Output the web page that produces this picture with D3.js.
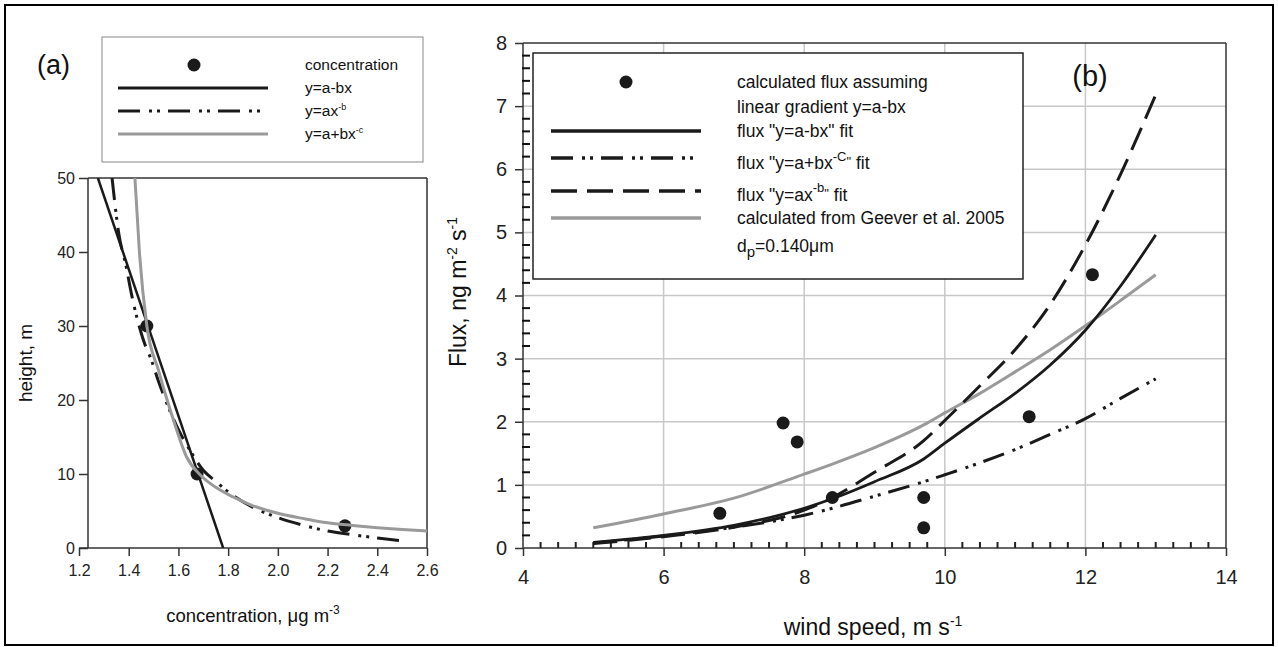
<!DOCTYPE html>
<html>
<head>
<meta charset="utf-8">
<script src="https://cdn.jsdelivr.net/npm/d3@7"></script>
<style>
body { margin: 0; background: #fff; }
svg { font-family: "Liberation Sans", Arial, sans-serif; }
</style>
</head>
<body>
<svg id="chart" width="1278" height="647"></svg>
<script>
// ---- panel (a): concentration profile ----
var concObs = [1.473, 1.675, 2.27];
var heightObs = [30, 10, 3];

var linConc = [1.276, 1.78];
var linHeight = [50, 0];

var powConc = [1.333, 1.36, 1.39, 1.41, 1.46, 1.49, 1.52, 1.56, 1.60, 1.65, 1.70, 1.75, 1.80, 1.90, 2.00, 2.10, 2.20, 2.30, 2.40, 2.49];
var powHeight = [50, 42.5, 38, 34.5, 28, 25.5, 22.5, 19, 16, 13, 10.5, 9.0, 7.6, 5.5, 4.1, 3.1, 2.3, 1.8, 1.35, 1.0];

var hypConc = [1.425, 1.443, 1.473, 1.52, 1.55, 1.58, 1.633, 1.687, 1.75, 1.82, 1.90, 2.00, 2.10, 2.20, 2.30, 2.40, 2.50, 2.60];
var hypHeight = [50, 40, 30, 24, 20.5, 17.3, 12.3, 9.9, 8.2, 6.9, 5.7, 4.7, 4.0, 3.4, 3.05, 2.75, 2.5, 2.3];

var concTicks = [1.2, 1.4, 1.6, 1.8, 2.0, 2.2, 2.4, 2.6];
var heightTicks = [0, 10, 20, 30, 40, 50];

// ---- panel (b): flux vs wind speed ----
var windObs = [6.8, 7.7, 7.9, 8.4, 9.7, 9.7, 11.2, 12.1];
var fluxObs = [0.55, 1.98, 1.68, 0.80, 0.80, 0.32, 2.08, 4.33];

var fitWind = [5, 6, 7, 8, 8.4, 9, 9.7, 10, 10.5, 11, 11.5, 12, 12.5, 13];
var linFlux = [0.09, 0.20, 0.36, 0.63, 0.78, 1.05, 1.41, 1.66, 2.06, 2.45, 2.90, 3.45, 4.15, 4.96];
var hypFlux = [0.08, 0.19, 0.33, 0.52, 0.63, 0.82, 1.05, 1.16, 1.35, 1.56, 1.80, 2.05, 2.37, 2.68];
var powFlux = [0.07, 0.18, 0.33, 0.60, 0.80, 1.20, 1.70, 2.02, 2.57, 3.14, 3.86, 4.80, 5.92, 7.18];
var geeverFlux = [0.32, 0.54, 0.79, 1.17, 1.33, 1.59, 1.95, 2.14, 2.45, 2.79, 3.14, 3.52, 3.92, 4.33];

var windTicks = [4, 6, 8, 10, 12, 14];
var fluxTicks = [0, 1, 2, 3, 4, 5, 6, 7, 8];

var GRAY = "#9a9a9a";
var DASHDOT = "22,9,3,5,3,8";
var DASHED = "24,10";

var svg = d3.select("#chart");

svg.append("rect")
    .attr("x", 5).attr("y", 5).attr("width", 1268).attr("height", 640)
    .attr("fill", "none").attr("stroke", "#000").attr("stroke-width", 2);

// text with super/subscript pieces: [string, vertical offset]
function addRich(g, x, y, parts, size, small) {
    var t = g.append("text").attr("x", x).attr("y", y).style("font-size", size + "px").attr("fill", "#111");
    var cur = 0;
    parts.forEach(function (p) {
        var off = p[1] || 0;
        var s = t.append("tspan").attr("dy", off - cur).text(p[0]);
        if (off != 0) s.style("font-size", small + "px");
        cur = off;
    });
    return t;
}

function zip(a, b) {
    return a.map(function (d, i) { return [d, b[i]]; });
}

function drawLine(g, x, y, xs, ys, color, width, dash, curve) {
    var line = d3.line()
        .x(function (d) { return x(d[0]); })
        .y(function (d) { return y(d[1]); })
        .curve(curve || d3.curveLinear);
    g.append("path")
        .datum(zip(xs, ys))
        .attr("d", line)
        .attr("fill", "none")
        .attr("stroke", color)
        .attr("stroke-width", width)
        .attr("stroke-dasharray", dash || null);
}

function hline(g, x1, x2, y, color, w) {
    g.append("line").attr("x1", x1).attr("x2", x2).attr("y1", y).attr("y2", y)
        .attr("stroke", color).attr("stroke-width", w);
}
function vline(g, x, y1, y2, color, w) {
    g.append("line").attr("x1", x).attr("x2", x).attr("y1", y1).attr("y2", y2)
        .attr("stroke", color).attr("stroke-width", w);
}

// =================== panel (a) ===================
var xa = d3.scaleLinear().domain([1.2, 2.6]).range([79, 427]);
var ya = d3.scaleLinear().domain([0, 50]).range([548, 178]);
var ga = svg.append("g");

var axA = ga.append("g")
    .attr("transform", "translate(0,548)")
    .call(d3.axisBottom(xa).tickValues(concTicks).tickSize(8).tickSizeOuter(0).tickFormat(d3.format(".1f")));
axA.select(".domain").remove();
axA.selectAll("line").attr("stroke", "#333").attr("stroke-width", 1.5);
axA.selectAll("text").attr("dy", null).attr("y", 28).style("font-size", "16px").attr("fill", "#222");

var ayA = ga.append("g")
    .attr("transform", "translate(88,0)")
    .call(d3.axisLeft(ya).tickValues(heightTicks).tickSize(9).tickPadding(4).tickSizeOuter(0));
ayA.select(".domain").remove();
ayA.selectAll("line").attr("stroke", "#333").attr("stroke-width", 1.5);
ayA.selectAll("text").style("font-size", "16px").attr("fill", "#222");

hline(ga, 79, 427, 548, "#333", 1.5);
vline(ga, 88, 178, 548, "#333", 1.5);
hline(ga, 88, 427, 178, "#333", 1.5);
vline(ga, 427, 178, 548, "#333", 1.5);

ga.append("defs").append("clipPath").attr("id", "clipA")
    .append("rect").attr("x", 88).attr("y", 178).attr("width", 339).attr("height", 370);
var plotA = ga.append("g").attr("clip-path", "url(#clipA)");

plotA.selectAll("circle")
    .data(zip(concObs, heightObs))
    .enter().append("circle")
    .attr("cx", function (d) { return xa(d[0]); })
    .attr("cy", function (d) { return ya(d[1]); })
    .attr("r", 6.5)
    .attr("fill", "#1a1a1a");

drawLine(plotA, xa, ya, linConc, linHeight, "#1a1a1a", 2.5);
drawLine(plotA, xa, ya, powConc, powHeight, "#1a1a1a", 3, DASHDOT, d3.curveMonotoneX);
drawLine(plotA, xa, ya, hypConc, hypHeight, GRAY, 3, null, d3.curveMonotoneX);

addRich(ga, 253, 622, [["concentration, \u03bcg m"], ["-3", -8]], 18.5, 12).attr("text-anchor", "middle");
ga.append("text")
    .attr("transform", "translate(32,363) rotate(-90)")
    .attr("text-anchor", "middle")
    .style("font-size", "19px").attr("fill", "#111")
    .text("height, m");

ga.append("text").attr("x", 37).attr("y", 74).style("font-size", "27px").attr("fill", "#111").text("(a)");

// legend (a)
var la = ga.append("g");
la.append("rect").attr("x", 102).attr("y", 37).attr("width", 321).attr("height", 125)
    .attr("fill", "#fff").attr("stroke", "#888").attr("stroke-width", 1);
la.append("circle").attr("cx", 194).attr("cy", 65).attr("r", 6.5).attr("fill", "#1a1a1a");
hline(la, 118, 268, 88, "#1a1a1a", 3);
la.append("line").attr("x1", 118).attr("x2", 268).attr("y1", 111).attr("y2", 111)
    .attr("stroke", "#1a1a1a").attr("stroke-width", 3).attr("stroke-dasharray", DASHDOT);
hline(la, 118, 268, 134, GRAY, 3);
addRich(la, 305, 70, [["concentration"]], 15.5, 10);
addRich(la, 305, 93, [["y=a-bx"]], 15.5, 10);
addRich(la, 305, 116, [["y=ax"], ["-b", -6]], 15.5, 9);
addRich(la, 305, 139, [["y=a+bx"], ["-c", -6]], 15.5, 9);

// =================== panel (b) ===================
var xb = d3.scaleLinear().domain([4, 14]).range([523, 1226]);
var yb = d3.scaleLinear().domain([0, 8]).range([548, 43]);
var gb = svg.append("g");

// grid
var grid = gb.append("g");
windTicks.slice(1, -1).forEach(function (v) { vline(grid, xb(v), 43, 548, "#c8c8c8", 1.5); });
fluxTicks.slice(1, -1).forEach(function (v) { hline(grid, 523, 1226, yb(v), "#c8c8c8", 1.5); });

var axB = gb.append("g").attr("transform", "translate(0,548)")
    .call(d3.axisBottom(xb).tickValues(windTicks).tickSize(8).tickSizeOuter(0));
axB.select(".domain").remove();
axB.selectAll("line").attr("stroke", "#333").attr("stroke-width", 1.5);
axB.selectAll("text").attr("dy", null).attr("y", 36).style("font-size", "20px").attr("fill", "#222");

var ayB = gb.append("g").attr("transform", "translate(523,0)")
    .call(d3.axisLeft(yb).tickValues(fluxTicks).tickSize(8).tickPadding(8).tickSizeOuter(0));
ayB.select(".domain").remove();
ayB.selectAll("line").attr("stroke", "#333").attr("stroke-width", 1.5);
ayB.selectAll("text").style("font-size", "20px").attr("fill", "#222");

hline(gb, 523, 1226, 548, "#333", 1.5);
vline(gb, 523, 43, 548, "#333", 1.5);
hline(gb, 523, 1226, 43, "#333", 1.5);
vline(gb, 1226, 43, 548, "#333", 1.5);

// minor ticks, pointing into the plot
var minorX = d3.range(4, 14.01, 0.25).filter(function (v) { return Math.abs(v / 2 - Math.round(v / 2)) > 0.01; });
var minorY = d3.range(1, 40).filter(function (k) { return k % 5 != 0; }).map(function (k) { return k / 5; });
var minor = gb.append("g");
minorX.forEach(function (v) { vline(minor, xb(v), 548, 542, "#222", 2); });
minorY.forEach(function (v) { hline(minor, 522, 530, yb(v), "#111", 2); });

// legend (b) box sits over the grid
var lb = gb.append("g");
lb.append("rect").attr("x", 533).attr("y", 53).attr("width", 490).attr("height", 226)
    .attr("fill", "#fff").attr("stroke", "#222").attr("stroke-width", 1.5);

var plotB = gb.append("g");
plotB.selectAll("circle")
    .data(zip(windObs, fluxObs))
    .enter().append("circle")
    .attr("cx", function (d) { return xb(d[0]); })
    .attr("cy", function (d) { return yb(d[1]); })
    .attr("r", 6.5)
    .attr("fill", "#1a1a1a");

drawLine(plotB, xb, yb, fitWind, geeverFlux, GRAY, 3, null, d3.curveMonotoneX);
drawLine(plotB, xb, yb, fitWind, hypFlux, "#1a1a1a", 3, DASHDOT, d3.curveMonotoneX);
drawLine(plotB, xb, yb, fitWind, powFlux, "#1a1a1a", 3, DASHED, d3.curveMonotoneX);
drawLine(plotB, xb, yb, fitWind, linFlux, "#1a1a1a", 2.8, null, d3.curveMonotoneX);

lb.append("circle").attr("cx", 626).attr("cy", 82).attr("r", 6.5).attr("fill", "#1a1a1a");
hline(lb, 551, 701, 131, "#1a1a1a", 3.3);
lb.append("line").attr("x1", 551).attr("x2", 697).attr("y1", 158).attr("y2", 158)
    .attr("stroke", "#1a1a1a").attr("stroke-width", 3.3).attr("stroke-dasharray", DASHDOT);
lb.append("line").attr("x1", 551).attr("x2", 701).attr("y1", 191).attr("y2", 191)
    .attr("stroke", "#1a1a1a").attr("stroke-width", 3.3).attr("stroke-dasharray", "26,10");
hline(lb, 551, 701, 218, GRAY, 3.3);

var LX = 737, LF = 17.5;
addRich(lb, LX, 88, [["calculated flux assuming"]], LF, 12);
addRich(lb, LX, 113, [["linear gradient y=a-bx"]], LF, 12);
addRich(lb, LX, 137, [["flux \"y=a-bx\" fit"]], LF, 12);
addRich(lb, LX, 169, [["flux \"y=a+bx"], ["-C", -8], ["\"", -3], [" fit", 0]], LF, 13);
addRich(lb, LX, 201, [["flux \"y=ax"], ["-b", -9], ["\"", -3], [" fit", 0]], LF, 13);
addRich(lb, LX, 224, [["calculated from Geever et al. 2005"]], LF, 12);
addRich(lb, LX, 252, [["d"], ["p", 5], ["=0.140\u03bcm", 0]], LF, 15);

addRich(gb, 873, 635, [["wind speed, m s"], ["-1", -9]], 23, 14).attr("text-anchor", "middle");
addRich(gb, 0, 0, [["Flux, ng m"], ["-2", -9], [" s"], ["-1", -9]], 23, 14)
    .attr("transform", "translate(466,292) rotate(-90)")
    .attr("text-anchor", "middle");

gb.append("text").attr("x", 1090).attr("y", 86).attr("text-anchor", "middle")
    .style("font-size", "29px").attr("fill", "#111").text("(b)");
</script>
</body>
</html>
